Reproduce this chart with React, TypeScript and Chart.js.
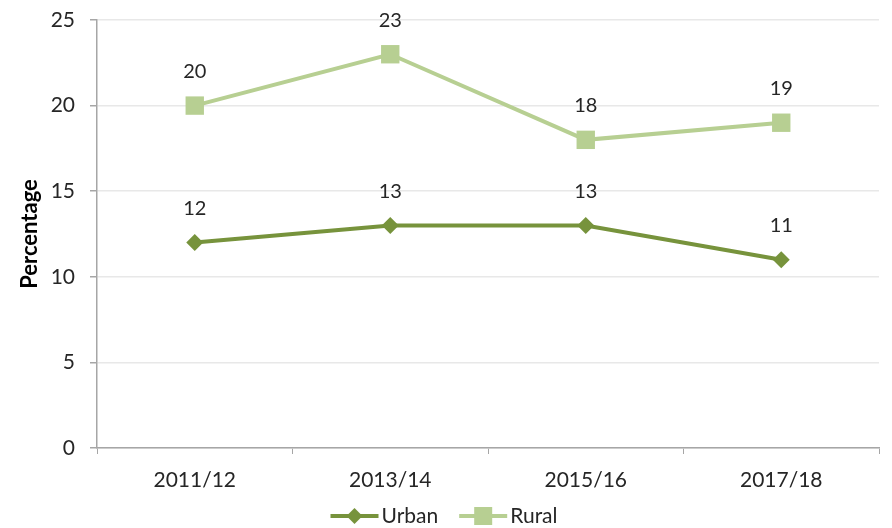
import React, { useEffect, useRef } from "react";
import { Chart, registerables } from "chart.js";

Chart.register(...registerables);

const categories = ["2011/12", "2013/14", "2015/16", "2017/18"];
const urbanValues = [12, 13, 13, 11];
const ruralValues = [20, 23, 18, 19];
const yTicks = [0, 5, 10, 15, 20, 25];

const URBAN = "#77933C";
const RURAL = "#B7CF92";
const TEXT = "#262626";
const FONT = "Lato, 'Liberation Sans', sans-serif";

function drawMarker(ctx: CanvasRenderingContext2D, kind: string, x: number, y: number, color: string) {
  ctx.fillStyle = color;
  if (kind === "diamond") {
    ctx.beginPath();
    ctx.moveTo(x, y - 8);
    ctx.lineTo(x + 8, y);
    ctx.lineTo(x, y + 8);
    ctx.lineTo(x - 8, y);
    ctx.closePath();
    ctx.fill();
  } else {
    ctx.fillRect(x - 9, y - 9, 18, 18);
  }
}

const dataLabelPlugin = {
  id: "dataLabels",
  afterDatasetsDraw(chart: any) {
    const ctx = chart.ctx;
    ctx.save();
    ctx.font = `20px ${FONT}`;
    ctx.fillStyle = TEXT;
    ctx.textAlign = "center";
    ctx.textBaseline = "middle";
    chart.data.datasets.forEach((ds: any, i: number) => {
      const meta = chart.getDatasetMeta(i);
      meta.data.forEach((pt: any, j: number) => {
        ctx.fillText(String(ds.data[j]), pt.x, pt.y - 34);
      });
    });
    ctx.restore();
  },
};

const legendPlugin = {
  id: "customLegend",
  afterDraw(chart: any) {
    const ctx = chart.ctx;
    const ds = chart.data.datasets;
    const kinds = ["diamond", "square"];
    ctx.save();
    ctx.font = `21px ${FONT}`;
    const iconW = 48;
    const gap = 3;
    const spacing = 21;
    const widths = ds.map((d: any) => iconW + gap + ctx.measureText(d.label).width);
    const total = widths.reduce((a: number, b: number) => a + b, 0) + spacing * (ds.length - 1);
    let x = chart.width / 2 - total / 2 - 2;
    const y = 516;
    ds.forEach((d: any, i: number) => {
      ctx.strokeStyle = d.borderColor;
      ctx.lineWidth = 4;
      ctx.beginPath();
      ctx.moveTo(x, y);
      ctx.lineTo(x + iconW, y);
      ctx.stroke();
      drawMarker(ctx, kinds[i], x + iconW / 2, y, d.borderColor);
      ctx.fillStyle = TEXT;
      ctx.textAlign = "left";
      ctx.textBaseline = "middle";
      ctx.fillText(d.label, x + iconW + gap, y);
      x += widths[i] + spacing;
    });
    ctx.restore();
  },
};

export default function App() {
  const ref = useRef<HTMLCanvasElement>(null);
  useEffect(() => {
    const chart = new Chart(ref.current!, {
      type: "line",
      data: {
        labels: categories,
        datasets: [
          {
            label: "Urban",
            data: urbanValues,
            borderColor: URBAN,
            backgroundColor: URBAN,
            borderWidth: 4,
            pointStyle: "rectRot",
            pointRadius: 8.5,
            pointHoverRadius: 8.5,
            pointBorderWidth: 0,
          },
          {
            label: "Rural",
            data: ruralValues,
            borderColor: RURAL,
            backgroundColor: RURAL,
            borderWidth: 4,
            pointStyle: "rect",
            pointRadius: 13,
            pointHoverRadius: 13,
            pointBorderWidth: 0,
          },
        ],
      },
      options: {
        responsive: false,
        animation: false,
        layout: { padding: { left: 17, right: 12, top: 20, bottom: 30 } },
        plugins: {
          tooltip: { enabled: false },
          legend: { display: false },
        },
        scales: {
          x: {
            offset: true,
            border: { display: true, color: "#A6A6A6", width: 1.5 },
            grid: {
              display: true,
              offset: true,
              drawOnChartArea: false,
              drawTicks: true,
              tickLength: 6,
              color: "#A6A6A6",
            },
            ticks: { font: { family: FONT, size: 21 }, color: TEXT, padding: 14 },
            afterFit: (s: any) => {
              s.height = 50;
              s.paddingLeft = 0;
              s.paddingRight = 0;
            },
          },
          y: {
            min: 0,
            max: 25,
            afterBuildTicks: (s: any) => {
              s.ticks = yTicks.map((v) => ({ value: v }));
            },
            border: { display: true, color: "#A6A6A6", width: 1.5 },
            grid: {
              color: "#E8E8E8",
              lineWidth: 1.5,
              drawTicks: true,
              tickLength: 7,
              tickColor: "#A6A6A6",
            },
            ticks: { font: { family: FONT, size: 21 }, color: TEXT, padding: 15 },
            title: {
              display: true,
              text: "Percentage",
              font: { family: FONT, size: 22, weight: "bold" },
              color: "#000",
              padding: { top: 0, bottom: 0 },
            },
            afterFit: (s: any) => {
              s.width = 80;
              s.paddingTop = 0;
              s.paddingBottom = 0;
            },
          },
        },
      },
      plugins: [dataLabelPlugin, legendPlugin],
    } as any);
    return () => chart.destroy();
  }, []);
  return (
    <div style={{ position: "absolute", left: 0, top: 0, width: 892, height: 528, background: "#fff" }}>
      <canvas ref={ref} width={892} height={528} />
    </div>
  );
}
